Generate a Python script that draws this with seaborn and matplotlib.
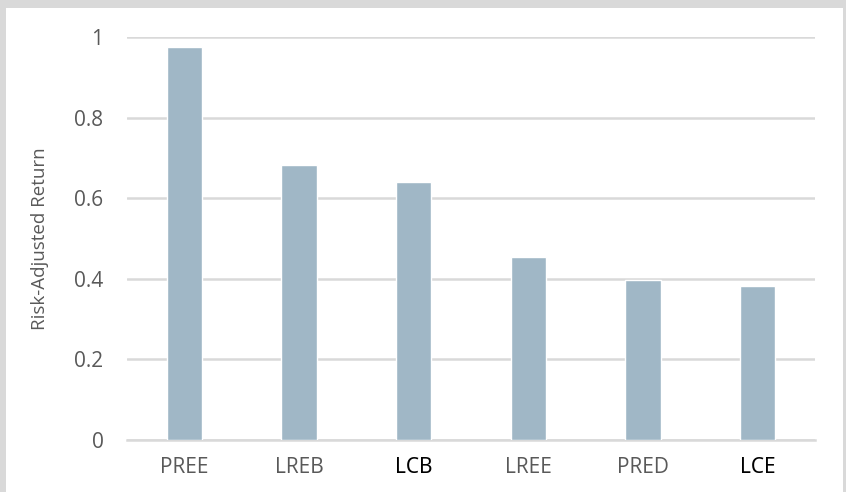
import matplotlib
matplotlib.use("Agg")
import matplotlib.pyplot as plt
import seaborn as sns
from matplotlib.patches import Rectangle

strategies = ["PREE", "LREB", "LCB", "LREE", "PRED", "LCE"]
returns = [0.975, 0.682, 0.640, 0.455, 0.398, 0.383]
ytick_vals = [0, 0.2, 0.4, 0.6, 0.8, 1]
ytick_labels = ["0", "0.2", "0.4", "0.6", "0.8", "1"]
dark_labels = ["LCB", "LCE"]

sns.set_style("white")
plt.rcParams["font.family"] = ["Open Sans", "DejaVu Sans"]

fig = plt.figure(figsize=(8.46, 4.92), dpi=100)
fig.patch.set_facecolor("#D9D9D9")
# white panel inside the gray frame
fig.add_artist(Rectangle((6 / 846, 0), (843 - 6) / 846, (492 - 8) / 492,
                         transform=fig.transFigure, facecolor="white",
                         edgecolor="none", zorder=-10))

ax = fig.add_axes([127 / 846, (492 - 440) / 492, (815 - 127) / 846, (440 - 37) / 492])
ax.set_facecolor("none")

sns.barplot(x=strategies, y=returns, color="#A0B7C6", width=0.31,
            saturation=1, ax=ax, zorder=3)

ax.set_ylim(0, 1)
ax.set_yticks(ytick_vals)
ax.set_yticklabels(ytick_labels)
ax.yaxis.grid(True, color="#D9D9D9", linewidth=1.8, zorder=0)
ax.set_axisbelow(True)
for s in ["top", "right", "left"]:
    ax.spines[s].set_visible(False)
ax.spines["bottom"].set_color("#D9D9D9")
ax.spines["bottom"].set_linewidth(1.8)
ax.spines["bottom"].set_zorder(1)

ax.tick_params(axis="y", length=0, pad=17, labelsize=15, labelcolor="#595959")
ax.tick_params(axis="x", length=0, pad=12, labelsize=15, labelcolor="#595959")
for lbl in ax.get_xticklabels():
    if lbl.get_text() in dark_labels:
        lbl.set_color("black")
        lbl.set_fontfamily(["Noto Sans", "DejaVu Sans"])

ax.set_xlabel("")
ax.set_ylabel("Risk-Adjusted Return", fontsize=13.5, color="#595959", labelpad=18)

fig.savefig("out.png", dpi=100, facecolor=fig.get_facecolor())
